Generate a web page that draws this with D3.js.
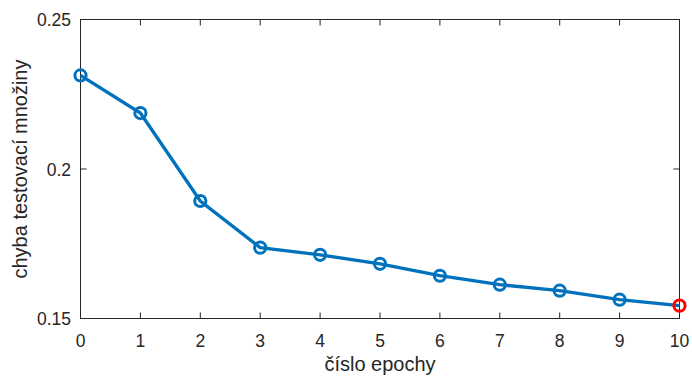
<!DOCTYPE html>
<html><head><meta charset="utf-8">
<script src="https://cdn.jsdelivr.net/npm/d3@7"></script>
<style>body{margin:0;background:#fff;}svg{display:block;font-family:"Liberation Sans",Arial,sans-serif;}</style>
</head><body><svg id="c" width="692" height="378"></svg>
<script>
const epochs = [0,1,2,3,4,5,6,7,8,9,10];
const errors = [0.2313,0.2187,0.1893,0.1737,0.1713,0.1683,0.1643,0.1613,0.1593,0.1563,0.1543];
const xTicks = [0,1,2,3,4,5,6,7,8,9,10];
const yTicks = [0.15,0.2,0.25];
const yTickLabels = ["0.15","0.2","0.25"];
const xLabel = "číslo epochy";
const yLabel = "chyba testovací množiny";

const svg = d3.select("#c");
const L=80.5,R=679.5,T=19.5,B=318.5;
const x = d3.scaleLinear().domain([0,10]).range([L,R]);
const y = d3.scaleLinear().domain([0.15,0.25]).range([B,T]);
const ax="#262626", tl=6;

const g = svg.append("g");
g.append("rect").attr("x",L).attr("y",T).attr("width",R-L).attr("height",B-T).attr("fill","none").attr("stroke",ax).attr("stroke-width",1);
xTicks.forEach(v=>{
  g.append("line").attr("x1",x(v)).attr("x2",x(v)).attr("y1",B).attr("y2",B-tl).attr("stroke",ax);
  g.append("line").attr("x1",x(v)).attr("x2",x(v)).attr("y1",T).attr("y2",T+tl).attr("stroke",ax);
  g.append("text").attr("x",x(v)).attr("y",B+28).attr("text-anchor","middle").attr("font-size",17.5).attr("fill",ax).text(v);
});
yTicks.forEach((v,i)=>{
  g.append("line").attr("x1",L).attr("x2",L+tl).attr("y1",y(v)).attr("y2",y(v)).attr("stroke",ax);
  g.append("line").attr("x1",R).attr("x2",R-tl).attr("y1",y(v)).attr("y2",y(v)).attr("stroke",ax);
  g.append("text").attr("x",L-9.5).attr("y",y(v)+6.5).attr("text-anchor","end").attr("font-size",17.5).attr("fill",ax).text(yTickLabels[i]);
});
g.append("text").attr("x",(L+R)/2).attr("y",371).attr("text-anchor","middle").attr("font-size",20).attr("fill",ax).text(xLabel);
g.append("text").attr("transform",`translate(27,${(T+B)/2}) rotate(-90)`).attr("text-anchor","middle").attr("font-size",20).attr("fill",ax).text(yLabel);

const data = epochs.map((e,i)=>({e,v:errors[i]}));
g.append("path").datum(data).attr("fill","none").attr("stroke","#0072BD").attr("stroke-width",3.3)
  .attr("d",d3.line().x(d=>x(d.e)).y(d=>y(d.v)));
g.selectAll("circle.m").data(data).enter().append("circle").attr("class","m")
  .attr("cx",d=>x(d.e)).attr("cy",d=>y(d.v)).attr("r",5.6).attr("fill","none")
  .attr("stroke",(d,i)=>i===data.length-1?"#FF0000":"#0072BD").attr("stroke-width",3);
</script></body></html>
